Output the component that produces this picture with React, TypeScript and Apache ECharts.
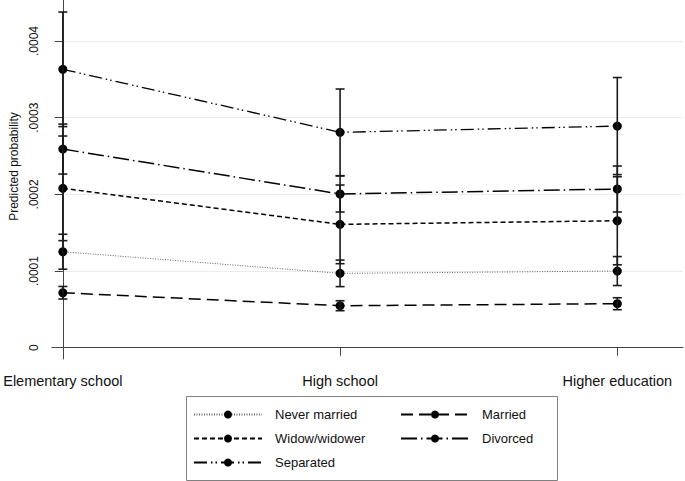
import React, { useEffect, useRef } from "react";
import * as echarts from "echarts";

const categories = ["Elementary school", "High school", "Higher education"];
const yTicks = [0, 0.0001, 0.0002, 0.0003, 0.0004];
const yTickLabels = ["0", ".0001", ".0002", ".0003", ".0004"];

const seriesNames = ["Never married", "Married", "Widow/widower", "Divorced", "Separated"];
const neverMarried = [0.0001252, 0.000097, 0.0001];
const neverMarriedLo = [0.0001024, 0.0000797, 0.0000811];
const neverMarriedHi = [0.000148, 0.0001143, 0.0001189];
const married = [0.0000717, 0.0000548, 0.0000574];
const marriedLo = [0.0000635, 0.0000483, 0.0000496];
const marriedHi = [0.0000799, 0.0000613, 0.0000652];
const widow = [0.0002079, 0.0001609, 0.0001656];
const widowLo = [0.0001397, 0.0001096, 0.0001082];
const widowHi = [0.0002761, 0.0002122, 0.000223];
const divorced = [0.0002591, 0.0002005, 0.000207];
const divorcedLo = [0.0002265, 0.000177, 0.000177];
const divorcedHi = [0.0002917, 0.000224, 0.000237];
const separated = [0.0003631, 0.0002809, 0.0002891];
const separatedLo = [0.0002884, 0.0002244, 0.0002258];
const separatedHi = [0.0004378, 0.0003374, 0.0003524];

const FONT = "'Liberation Sans', Arial, sans-serif";

export default function App() {
  const ref = useRef<HTMLDivElement>(null);
  useEffect(() => {
    if (!ref.current) return;
    const chart = echarts.init(ref.current, undefined, { renderer: "svg" });
    const values = [neverMarried, married, widow, divorced, separated];
    const los = [neverMarriedLo, marriedLo, widowLo, divorcedLo, separatedLo];
    const his = [neverMarriedHi, marriedHi, widowHi, divorcedHi, separatedHi];
    const dashes: any[] = [
      [1, 1.5],
      [12, 6],
      [5, 3],
      [16, 4, 1.5, 4],
      [13, 4, 1.5, 3, 1.5, 4],
    ];
    const lineColors = ["#666", "#000", "#000", "#000", "#000"];
    const lineWidths = [1, 1.5, 1.5, 1.5, 1.3];

    const lineSeries = seriesNames.map((name, i) => ({
      name,
      type: "line",
      data: values[i].map((v, j) => [j, v]),
      symbol: "circle",
      symbolSize: 9,
      itemStyle: { color: "#000" },
      lineStyle: { color: lineColors[i], width: lineWidths[i], type: dashes[i] },
      z: 2,
    }));

    const ciData: number[][] = [];
    seriesNames.forEach((_, i) => {
      categories.forEach((_, j) => ciData.push([j, los[i][j], his[i][j]]));
    });

    const ciSeries = {
      type: "custom",
      name: "ci",
      z: 3,
      clip: false,
      encode: { x: 0, y: [1, 2] },
      data: ciData,
      renderItem: (params: any, api: any) => {
        const x = api.value(0);
        const lo = api.coord([x, api.value(1)]);
        const hi = api.coord([x, api.value(2)]);
        const cw = 4.5;
        const st = { stroke: "#1a1a1a", lineWidth: 1.6 };
        return {
          type: "group",
          children: [
            { type: "line", shape: { x1: lo[0], y1: lo[1], x2: hi[0], y2: hi[1] }, style: st },
            { type: "line", shape: { x1: lo[0] - cw, y1: lo[1], x2: lo[0] + cw, y2: lo[1] }, style: st },
            { type: "line", shape: { x1: hi[0] - cw, y1: hi[1], x2: hi[0] + cw, y2: hi[1] }, style: st },
          ],
        };
      },
    };

    const legendCommon = {
      orient: "vertical",
      itemWidth: 68,
      itemHeight: 10,
      itemGap: 11,
      selectedMode: false,
      padding: 0,
      textStyle: { fontFamily: FONT, fontSize: 13, color: "#111", padding: [0, 0, 0, 8] },
    };

    chart.setOption({
      animation: false,
      backgroundColor: "#fff",
      grid: { left: 49, right: 2, top: 0, bottom: 122, containLabel: false },
      xAxis: {
        type: "value",
        min: -0.0395,
        max: 2.237,
        axisLine: { show: true, lineStyle: { color: "#444", width: 1 } },
        axisTick: { show: true, length: 8, lineStyle: { color: "#444" }, customValues: [0, 1, 2] },
        axisLabel: {
          customValues: [0, 1, 2],
          margin: 14,
          fontFamily: FONT,
          fontSize: 14.5,
          color: "#111",
          formatter: (v: number) => categories[Math.round(v)] ?? "",
        },
        splitLine: { show: false },
      },
      yAxis: {
        type: "value",
        min: -0.0000147,
        max: 0.0004535,
        name: "Predicted probability",
        nameLocation: "middle",
        nameGap: 28,
        nameTextStyle: { fontFamily: FONT, fontSize: 12, color: "#111", padding: [0, 0, 0, 26] },
        axisLine: { show: true, lineStyle: { color: "#444", width: 1 } },
        axisTick: { show: true, length: 8, lineStyle: { color: "#444" }, customValues: yTicks },
        axisLabel: {
          customValues: yTicks,
          rotate: 90,
          margin: 12,
          fontFamily: FONT,
          fontSize: 12,
          color: "#111",
          formatter: (v: number) => {
            const idx = yTicks.findIndex((t) => Math.abs(t - v) < 1e-9);
            return idx >= 0 ? yTickLabels[idx] : "";
          },
        },
        splitLine: { show: true, lineStyle: { color: "#ebebeb", width: 1 } },
      },
      legend: [
        { ...legendCommon, left: 193, top: 408, data: ["Never married", "Widow/widower", "Separated"] },
        { ...legendCommon, left: 400, top: 408, data: ["Married", "Divorced"] },
      ],
      graphic: [
        {
          type: "rect",
          left: 184,
          top: 394,
          shape: { width: 371, height: 84 },
          style: { fill: "none", stroke: "#808080", lineWidth: 1 },
          silent: true,
        },
      ],
      series: [...lineSeries, ciSeries],
    });
    return () => chart.dispose();
  }, []);
  return (
    <div
      ref={ref}
      style={{ position: "absolute", left: 0, top: 0, width: 685, height: 481 }}
    />
  );
}
